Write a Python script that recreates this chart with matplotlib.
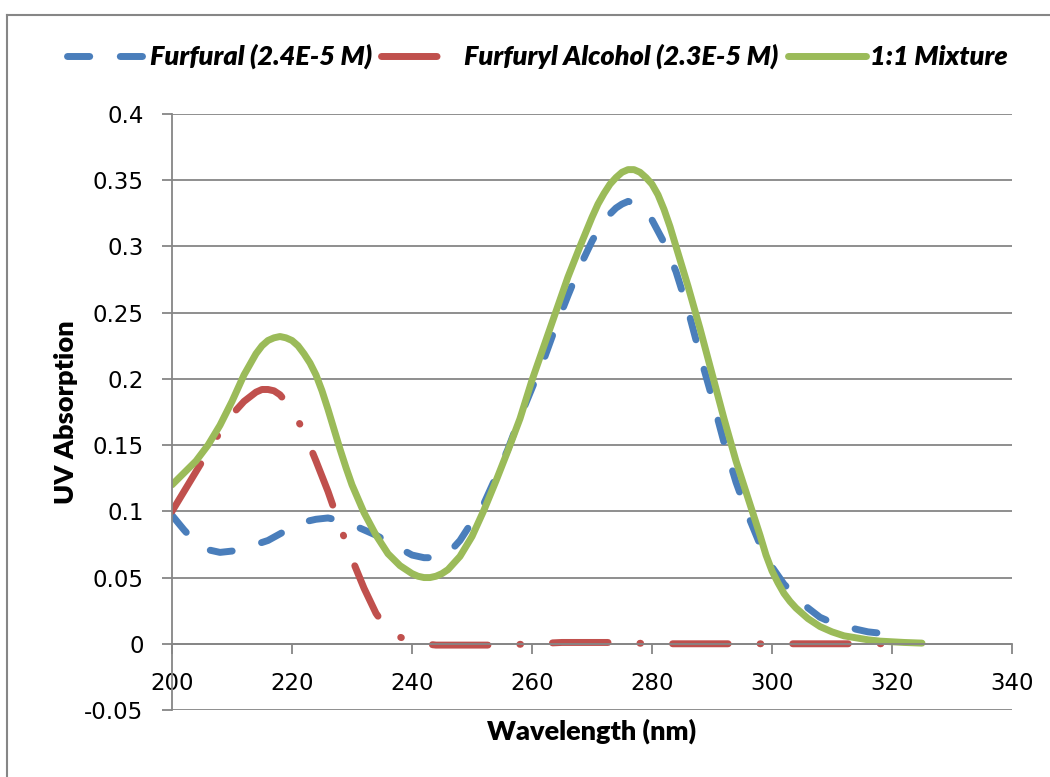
import matplotlib
matplotlib.use("Agg")
import matplotlib.pyplot as plt
from matplotlib.lines import Line2D

# wavelength (nm) and absorption
furfural_x = [200, 202, 204, 206, 208, 210, 212, 214, 216, 218, 220, 222, 224, 226, 228,
              230, 232, 234, 236, 238, 240, 242, 244, 246, 248, 250, 252, 254, 256, 258,
              260, 262, 264, 266, 268, 270, 272, 274, 275, 276, 277, 278, 279, 280, 282,
              284, 286, 288, 290, 292, 294, 296, 298, 300, 302, 304, 306, 308, 310, 312,
              314, 316, 318, 320, 322]
furfural_y = [0.097, 0.086, 0.076, 0.071, 0.069, 0.070, 0.072, 0.075, 0.078, 0.083, 0.088,
              0.092, 0.094, 0.095, 0.093, 0.090, 0.086, 0.082, 0.077, 0.072, 0.067, 0.065,
              0.065, 0.068, 0.078, 0.092, 0.106, 0.126, 0.147, 0.171, 0.193, 0.215, 0.240,
              0.263, 0.285, 0.304, 0.320, 0.329, 0.332, 0.334, 0.333, 0.330, 0.326, 0.320,
              0.303, 0.281, 0.252, 0.218, 0.186, 0.152, 0.122, 0.097, 0.075, 0.058, 0.045,
              0.036, 0.027, 0.020, 0.016, 0.014, 0.011, 0.009, 0.008, 0.007, 0.006]

alcohol_x = [200, 202, 204, 206, 208, 210, 212, 214, 215, 216, 217, 218, 220, 222, 224,
             226, 228, 230, 232, 234, 236, 238, 240, 242, 244, 246, 250, 255, 260, 265,
             270, 275, 280, 285, 290, 295, 300, 305, 310, 315, 320]
alcohol_y = [0.100, 0.115, 0.130, 0.145, 0.160, 0.173, 0.183, 0.190, 0.192, 0.192, 0.191,
             0.188, 0.177, 0.160, 0.138, 0.115, 0.089, 0.064, 0.042, 0.023, 0.010, 0.005,
             0.002, 0.000, -0.001, -0.001, -0.001, -0.001, 0.000, 0.001, 0.001, 0.001,
             0.000, 0.000, 0.000, 0.000, 0.000, 0.000, 0.000, 0.000, 0.000]

mixture_x = [200, 202, 204, 206, 208, 210, 212, 214, 215, 216, 217, 218, 219, 220, 221,
             222, 223, 224, 225, 226, 227, 228, 229, 230, 232, 234, 236, 238, 240, 241,
             242, 243, 244, 245, 246, 248, 250, 252, 254, 256, 258, 260, 262, 264, 266,
             268, 270, 271, 272, 273, 274, 275, 276, 277, 278, 279, 280, 281, 282, 283,
             284, 286, 288, 290, 292, 294, 296, 298, 299, 300, 301, 302, 303, 304, 306,
             308, 310, 312, 314, 316, 318, 320, 322, 325]
mixture_y = [0.120, 0.129, 0.138, 0.150, 0.165, 0.183, 0.203, 0.219, 0.225, 0.229, 0.231,
             0.232, 0.231, 0.229, 0.225, 0.219, 0.212, 0.203, 0.191, 0.177, 0.162, 0.147,
             0.133, 0.120, 0.099, 0.082, 0.068, 0.059, 0.053, 0.051, 0.050, 0.050, 0.051,
             0.053, 0.056, 0.066, 0.081, 0.101, 0.123, 0.146, 0.170, 0.199, 0.225, 0.251,
             0.277, 0.300, 0.322, 0.332, 0.340, 0.347, 0.352, 0.356, 0.358, 0.358, 0.356,
             0.352, 0.347, 0.339, 0.328, 0.315, 0.300, 0.270, 0.238, 0.204, 0.170, 0.138,
             0.110, 0.082, 0.067, 0.055, 0.046, 0.038, 0.032, 0.027, 0.019, 0.013, 0.009,
             0.006, 0.0045, 0.003, 0.002, 0.0015, 0.001, 0.0005]

labels = ["Furfural (2.4E-5 M)", "Furfuryl Alcohol (2.3E-5 M)", "1:1 Mixture"]
xticks = [200, 220, 240, 260, 280, 300, 320, 340]
yticks = [-0.05, 0, 0.05, 0.1, 0.15, 0.2, 0.25, 0.3, 0.35, 0.4]
ytick_labels = ["-0.05", "0", "0.05", "0.1", "0.15", "0.2", "0.25", "0.3", "0.35", "0.4"]

BLUE = "#4a7ebb"
RED = "#c0504d"
GREEN = "#9bbb59"
GRAY = "#868686"

fig = plt.figure(figsize=(10.5, 7.77), dpi=100)
ax = fig.add_axes([172/1050, 1-710/777, 840/1050, 596/777])

ax.plot(furfural_x, furfural_y, color=BLUE, lw=5, dashes=(3.2, 4.4),
        dash_capstyle="round", solid_capstyle="round", solid_joinstyle="round",
        label=labels[0])
ax.plot(alcohol_x, alcohol_y, color=RED, lw=5, dashes=(8, 4.6, 0.1, 4.6),
        dash_capstyle="round", solid_capstyle="round", solid_joinstyle="round",
        label=labels[1])
ax.plot(mixture_x, mixture_y, color=GREEN, lw=5, solid_capstyle="round",
        solid_joinstyle="round", label=labels[2])

ax.set_xlim(200, 340)
ax.set_ylim(-0.05, 0.4)
ax.set_xticks(xticks)
ax.set_yticks(yticks)
ax.set_yticklabels(ytick_labels)

ax.grid(axis="y", color=GRAY, lw=1.3)
ax.set_axisbelow(True)
for s in ["top", "right"]:
    ax.spines[s].set_visible(False)
ax.spines["bottom"].set_position(("data", 0))
for s in ["left", "bottom"]:
    ax.spines[s].set_color(GRAY)
    ax.spines[s].set_linewidth(1.3)
ax.tick_params(axis="both", direction="out", length=7, width=1.3, color=GRAY,
               labelsize=16.5, pad=13.5)

lab_font = dict(family="Lato", weight="heavy", size=19.5)
ax.set_xlabel("Wavelength (nm)", **lab_font)
ax.set_ylabel("UV Absorption", **lab_font)
ax.xaxis.set_label_coords(0.5, -0.015)
ax.yaxis.set_label_coords(-0.112, 0.5)

fig.legend(loc="center", bbox_to_anchor=(0.512, 0.927), ncol=3, frameon=False,
           handlelength=2.9, handletextpad=0.15, columnspacing=0.35,
           prop=dict(family="Lato", weight="heavy", style="italic", size=19.5))

# outer chart border
fig.add_artist(Line2D([7/1050, 7/1050], [0, 1-15/777], color=GRAY, lw=1.5))
fig.add_artist(Line2D([7/1050, 1], [1-15/777, 1-15/777], color=GRAY, lw=1.5))

fig.savefig("out.png", dpi=100)
